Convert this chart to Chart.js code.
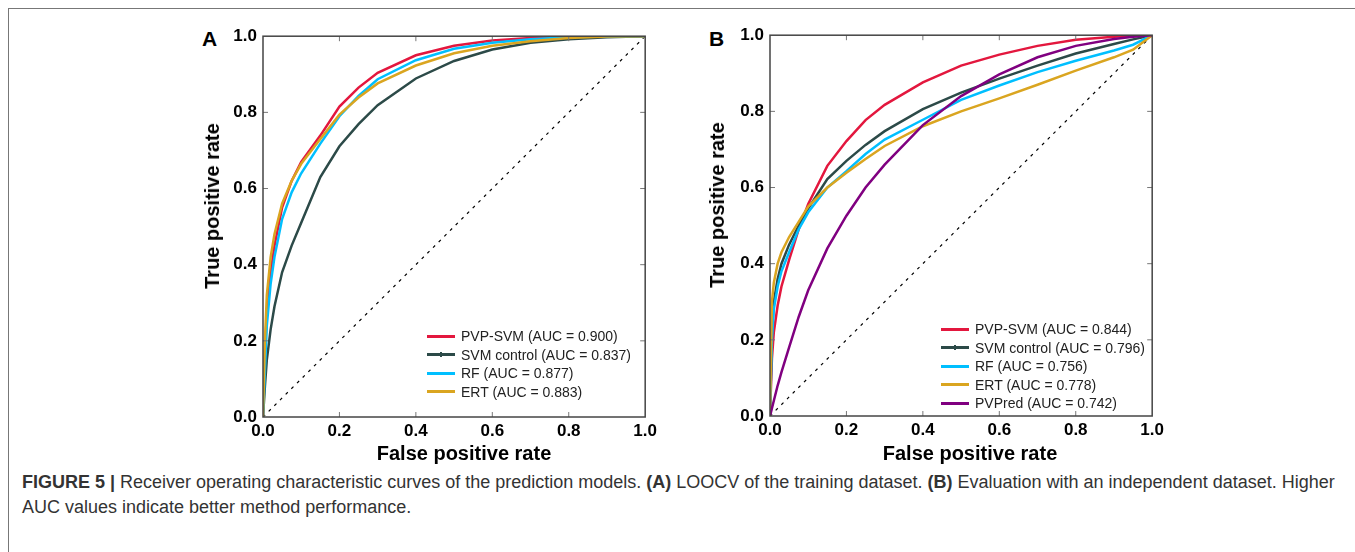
<!DOCTYPE html>
<html>
<head>
<meta charset="utf-8">
<script src="https://cdn.jsdelivr.net/npm/chart.js@4.4.1/dist/chart.umd.min.js"></script>
<style>
  body { margin: 0; width: 1355px; height: 552px; background: #fff; position: relative; overflow: hidden;
         font-family: "Liberation Sans", Arial, sans-serif; }
  .frame { position: absolute; left: 8px; top: 8px; width: 1400px; height: 600px;
           border-left: 1.5px solid #777; border-top: 1.5px solid #777; }
  .panel { position: absolute; width: 471px; height: 450px; }
  .letter { position: absolute; font-weight: bold; font-size: 21px; color: #000; }
  .ytitle, .xtitle { position: absolute; font-weight: bold; font-size: 20px; color: #000; white-space: nowrap;
                     line-height: 24px; }
  .ytitle { transform: translate(-50%, -50%) rotate(-90deg); }
  .xtitle { transform: translate(-50%, -50%); }
  .legend { position: absolute; font-size: 14px; color: #222; }
  .legend .row { height: 18.5px; display: flex; align-items: center; white-space: nowrap; }
  .legend .swatch { width: 28px; height: 3px; margin-right: 6px; position: relative; }
  .legend .mark { position: absolute; left: 13px; top: -1px; width: 2px; height: 5px; }
  .caption { position: absolute; left: 22px; top: 470px; width: 1324px; font-size: 18px;
             line-height: 25px; color: #333; }
</style>
</head>
<body>
<div class="frame"></div>

<div class="letter" style="left:202px; top:27px;">A</div>
<div class="panel" style="left:190px; top:20px;"><canvas id="chartA" width="471" height="450"></canvas></div>
<div class="ytitle" style="left:212px; top:206px;">True positive rate</div>
<div class="xtitle" style="left:464px; top:453px;">False positive rate</div>
<div class="legend" id="legendA" style="left:427px; top:327px;"></div>

<div class="letter" style="left:709px; top:27px;">B</div>
<div class="panel" style="left:697px; top:19px;"><canvas id="chartB" width="471" height="450"></canvas></div>
<div class="ytitle" style="left:717px; top:205px;">True positive rate</div>
<div class="xtitle" style="left:970px; top:453px;">False positive rate</div>
<div class="legend" id="legendB" style="left:941px; top:320px;"></div>

<div class="caption"><b>FIGURE 5 |</b> Receiver operating characteristic curves of the prediction models. <b>(A)</b> LOOCV of the training dataset. <b>(B)</b> Evaluation with an independent dataset. Higher AUC values indicate better method performance.</div>

<script>
// false positive rate sample points
const fprA = [0, 0.005, 0.01, 0.02, 0.03, 0.05, 0.075, 0.1, 0.15, 0.2, 0.25, 0.3, 0.4, 0.5, 0.6, 0.7, 0.8, 0.9, 1.0];
const fprB = [0, 0.005, 0.01, 0.02, 0.03, 0.05, 0.075, 0.1, 0.15, 0.2, 0.25, 0.3, 0.4, 0.5, 0.6, 0.7, 0.8, 0.9, 0.95, 1.0];

// panel A: LOOCV on training set
const pvpSvmA  = [0, 0.17, 0.27, 0.38, 0.45, 0.55, 0.62, 0.67, 0.739, 0.815, 0.865, 0.904, 0.950, 0.975, 0.989, 0.995, 0.998, 1.0, 1.0];
const svmCtrlA = [0, 0.08, 0.15, 0.23, 0.29, 0.38, 0.45, 0.51, 0.63, 0.711, 0.769, 0.819, 0.889, 0.935, 0.965, 0.983, 0.992, 0.997, 1.0];
const rfA      = [0, 0.12, 0.24, 0.35, 0.42, 0.52, 0.59, 0.64, 0.718, 0.79, 0.843, 0.887, 0.937, 0.967, 0.983, 0.992, 0.997, 0.999, 1.0];
const ertA     = [0, 0.2, 0.32, 0.42, 0.48, 0.56, 0.62, 0.665, 0.73, 0.794, 0.839, 0.876, 0.923, 0.955, 0.975, 0.987, 0.995, 0.999, 1.0];

// panel B: independent dataset
const pvpSvmB  = [0, 0.15, 0.22, 0.29, 0.34, 0.41, 0.49, 0.557, 0.657, 0.722, 0.777, 0.817, 0.876, 0.92, 0.949, 0.972, 0.988, 0.996, 0.999, 1.0];
const svmCtrlB = [0, 0.22, 0.3, 0.36, 0.4, 0.45, 0.50, 0.545, 0.622, 0.67, 0.712, 0.748, 0.806, 0.849, 0.886, 0.92, 0.952, 0.977, 0.989, 1.0];
const rfB      = [0, 0.2, 0.28, 0.34, 0.38, 0.43, 0.49, 0.535, 0.60, 0.643, 0.688, 0.726, 0.778, 0.83, 0.868, 0.903, 0.933, 0.96, 0.975, 1.0];
const ertB     = [0, 0.3, 0.35, 0.4, 0.43, 0.47, 0.51, 0.55, 0.60, 0.639, 0.675, 0.709, 0.761, 0.80, 0.834, 0.87, 0.907, 0.942, 0.962, 1.0];
const pvPredB  = [0, 0.02, 0.04, 0.08, 0.115, 0.18, 0.26, 0.33, 0.44, 0.526, 0.60, 0.66, 0.764, 0.84, 0.897, 0.942, 0.972, 0.99, 0.996, 1.0];

const diagonal = [0, 1];
const tickValues = [0, 0.2, 0.4, 0.6, 0.8, 1.0];

const labelsA = ['PVP-SVM (AUC = 0.900)', 'SVM control (AUC = 0.837)', 'RF (AUC = 0.877)', 'ERT (AUC = 0.883)'];
const labelsB = ['PVP-SVM (AUC = 0.844)', 'SVM control (AUC = 0.796)', 'RF (AUC = 0.756)', 'ERT (AUC = 0.778)', 'PVPred (AUC = 0.742)'];
const colors = ['#e3173e', '#2c4a48', '#00bfff', '#daa520', '#800080'];

const FONT = '"Liberation Sans", Arial, sans-serif';

function toPoints(xs, ys) {
    return xs.map((x, i) => ({ x: x, y: ys[i] }));
}

// inward ticks on all four sides + box around plot
const frameTicks = {
    id: 'frameTicks',
    afterDatasetsDraw(chart) {
        const { ctx, chartArea: a, scales: { x, y } } = chart;
        ctx.save();
        ctx.strokeStyle = '#777';
        ctx.lineWidth = 1;
        ctx.beginPath();
        for (const v of tickValues.slice(1, -1)) {
            const px = x.getPixelForValue(v), py = y.getPixelForValue(v);
            ctx.moveTo(px, a.bottom); ctx.lineTo(px, a.bottom - 5);
            ctx.moveTo(px, a.top); ctx.lineTo(px, a.top + 5);
            ctx.moveTo(a.left, py); ctx.lineTo(a.left + 5, py);
            ctx.moveTo(a.right, py); ctx.lineTo(a.right - 5, py);
        }
        ctx.stroke();
        ctx.strokeStyle = '#444';
        ctx.lineWidth = 1.5;
        ctx.strokeRect(a.left, a.top, a.right - a.left, a.bottom - a.top);
        ctx.restore();
    }
};

function makeChart(id, fpr, series, labels) {
    const datasets = series.map((s, i) => ({
        label: labels[i],
        data: toPoints(fpr, s),
        borderColor: colors[i],
        borderWidth: 2.5,
        showLine: true,
        pointRadius: 0,
        tension: 0,
        order: series.length - i
    }));
    datasets.push({
        label: 'chance',
        data: toPoints(diagonal, diagonal),
        borderColor: '#000',
        borderWidth: 1.2,
        borderDash: [3, 5],
        showLine: true,
        pointRadius: 0,
        order: 20
    });

    return new Chart(document.getElementById(id), {
        type: 'scatter',
        data: { datasets: datasets },
        options: {
            responsive: false,
            animation: false,
            devicePixelRatio: 1,
            layout: { padding: { top: 12, right: 14, left: 0, bottom: 0 } },
            plugins: { legend: { display: false }, tooltip: { enabled: false } },
            scales: {
                x: {
                    type: 'linear', min: 0, max: 1,
                    afterBuildTicks: (s) => { s.ticks = tickValues.map(v => ({ value: v })); },
                    afterFit: (s) => { s.height = 53; },
                    ticks: {
                        padding: 4, color: '#000', maxRotation: 0,
                        font: { family: FONT, size: 17, weight: 'bold' },
                        callback: (v) => v.toFixed(1)
                    },
                    grid: { drawOnChartArea: false, drawTicks: false },
                    border: { display: false }
                },
                y: {
                    type: 'linear', min: 0, max: 1,
                    afterBuildTicks: (s) => { s.ticks = tickValues.map(v => ({ value: v })); },
                    afterFit: (s) => { s.width = 73; },
                    ticks: {
                        padding: 6, color: '#000',
                        font: { family: FONT, size: 17, weight: 'bold' },
                        callback: (v) => v.toFixed(1)
                    },
                    grid: { drawOnChartArea: false, drawTicks: false },
                    border: { display: false }
                }
            }
        },
        plugins: [frameTicks]
    });
}

function buildLegend(id, chart, count) {
    const box = document.getElementById(id);
    chart.data.datasets.slice(0, count).forEach((ds, i) => {
        const row = document.createElement('div');
        row.className = 'row';
        const sw = document.createElement('span');
        sw.className = 'swatch';
        sw.style.background = ds.borderColor;
        if (i === 1) {
            // SVM control has a small marker in the middle of its key
            const mk = document.createElement('span');
            mk.className = 'mark';
            mk.style.background = ds.borderColor;
            sw.appendChild(mk);
        }
        const txt = document.createElement('span');
        txt.textContent = ds.label;
        row.appendChild(sw);
        row.appendChild(txt);
        box.appendChild(row);
    });
}

const chartA = makeChart('chartA', fprA, [pvpSvmA, svmCtrlA, rfA, ertA], labelsA);
const chartB = makeChart('chartB', fprB, [pvpSvmB, svmCtrlB, rfB, ertB, pvPredB], labelsB);
buildLegend('legendA', chartA, 4);
buildLegend('legendB', chartB, 5);
</script>
</body>
</html>
